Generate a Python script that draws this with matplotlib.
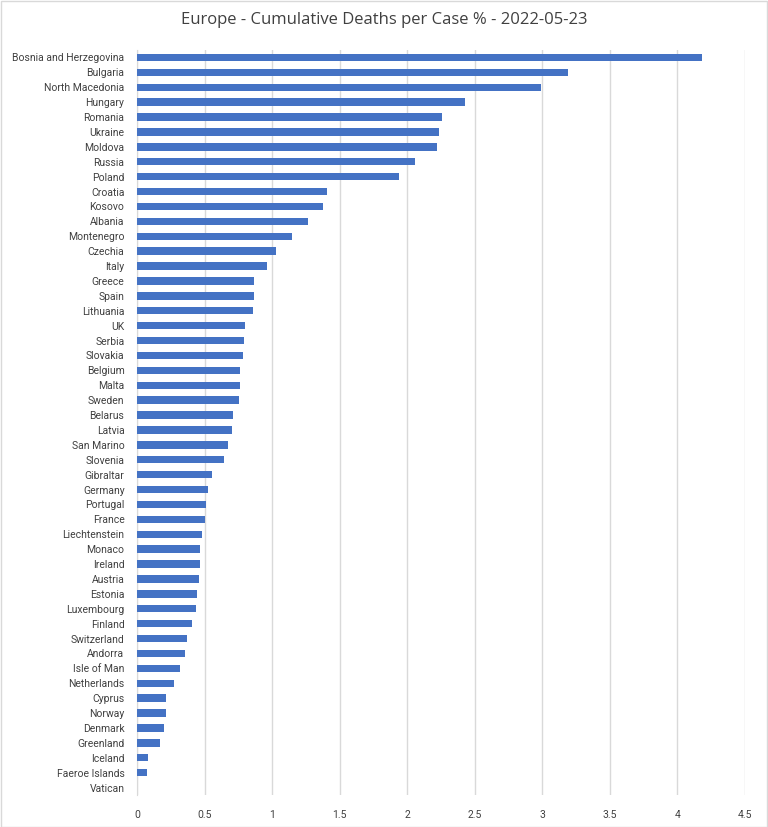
import numpy as np
import matplotlib.pyplot as plt
from matplotlib.patches import Rectangle

# Countries, top to bottom as shown
countries = [
    "Bosnia and Herzegovina", "Bulgaria", "North Macedonia", "Hungary", "Romania",
    "Ukraine", "Moldova", "Russia", "Poland", "Croatia", "Kosovo", "Albania",
    "Montenegro", "Czechia", "Italy", "Greece", "Spain", "Lithuania", "UK",
    "Serbia", "Slovakia", "Belgium", "Malta", "Sweden", "Belarus", "Latvia",
    "San Marino", "Slovenia", "Gibraltar", "Germany", "Portugal", "France",
    "Liechtenstein", "Monaco", "Ireland", "Austria", "Estonia", "Luxembourg",
    "Finland", "Switzerland", "Andorra", "Isle of Man", "Netherlands", "Cyprus",
    "Norway", "Denmark", "Greenland", "Iceland", "Faeroe Islands", "Vatican",
]

# Cumulative deaths per case, %
deaths_pct = [
    4.18, 3.19, 2.99, 2.43, 2.255, 2.233, 2.219, 2.056, 1.94, 1.407, 1.374, 1.265,
    1.146, 1.027, 0.961, 0.865, 0.865, 0.857, 0.799, 0.791, 0.784, 0.762, 0.762,
    0.754, 0.710, 0.703, 0.673, 0.644, 0.555, 0.526, 0.511, 0.504,
    0.482, 0.467, 0.467, 0.459, 0.445, 0.437, 0.408, 0.371, 0.356, 0.319,
    0.275, 0.216, 0.216, 0.201, 0.172, 0.084, 0.076, 0.0,
]

xticks = [0, 0.5, 1, 1.5, 2, 2.5, 3, 3.5, 4, 4.5]
xtick_labels = ["0", "0.5", "1", "1.5", "2", "2.5", "3", "3.5", "4", "4.5"]

plt.rcParams['font.family'] = ['Roboto', 'DejaVu Sans']

W, H = 768, 827
fig = plt.figure(figsize=(W / 100, H / 100), dpi=100)
# plot area in pixels: left 137, right 745, top 50, bottom 795
ax = fig.add_axes([137 / W, 1 - 795 / H, (745 - 137) / W, (795 - 50) / H])

y = np.arange(len(countries))
ax.barh(y, deaths_pct, height=0.5, color="#4472C4", zorder=3)

ax.set_ylim(len(countries) - 0.5, -0.5)
ax.set_xlim(0, 4.5)
ax.set_yticks(y)
ax.set_yticklabels(countries, fontsize=7.5, color="#404040")
ax.set_xticks(xticks)
ax.set_xticklabels(xtick_labels, fontsize=7.5, color="#404040")
ax.tick_params(axis="y", length=0, pad=9)
ax.tick_params(axis="x", length=0, pad=11)

ax.grid(axis="x", color="#D9D9D9", linewidth=1, zorder=0)
for side in ["top", "right", "bottom"]:
    ax.spines[side].set_visible(False)
ax.spines["left"].set_color("#D9D9D9")

fig.text(384 / W, 1 - 20 / H, "Europe - Cumulative Deaths per Case % - 2022-05-23",
         ha="center", va="center", fontsize=12, color="#404040",
         family=['Open Sans', 'DejaVu Sans'])

# chart border
fig.patches.append(Rectangle((0.5 / W, 0.5 / H), 1 - 1.5 / W, 1 - 1.5 / H,
                             transform=fig.transFigure, fill=False,
                             edgecolor="#D9D9D9", linewidth=1))

fig.savefig("out.png", dpi=100)
